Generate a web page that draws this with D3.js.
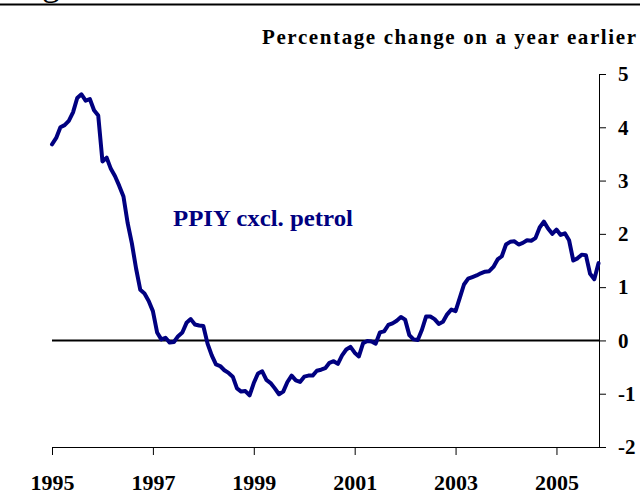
<!DOCTYPE html>
<html>
<head>
<meta charset="utf-8">
<script src="https://cdn.jsdelivr.net/npm/d3@7"></script>
<style>
  html, body { margin: 0; padding: 0; background: #fff; }
  svg { display: block; }
  text { font-family: "Liberation Serif", "Times New Roman", serif; }
</style>
</head>
<body>
<svg id="chart" width="640" height="497"></svg>
<script>
// ---- data (monthly, Jan 1995 .. Nov 2005) ----
const startYear = 1995;
const seriesName = "PPIY cxcl. petrol";
const unitLabel = "Percentage change on a year earlier";
const values = [
  3.68, 3.80, 4.00, 4.04, 4.12, 4.28, 4.55, 4.62, 4.50, 4.53, 4.32, 4.22,
  3.36, 3.43, 3.22, 3.08, 2.90, 2.70, 2.20, 1.82, 1.35, 0.95, 0.88, 0.74,
  0.55, 0.15, 0.02, 0.05, -0.04, -0.03, 0.08, 0.15, 0.33, 0.40, 0.30, 0.28,
  0.27, -0.06, -0.28, -0.45, -0.48, -0.56, -0.61, -0.68, -0.90, -0.96, -0.95, -1.03,
  -0.80, -0.62, -0.58, -0.74, -0.80, -0.90, -1.01, -0.96, -0.78, -0.66, -0.75, -0.78,
  -0.68, -0.66, -0.66, -0.57, -0.55, -0.52, -0.42, -0.39, -0.44, -0.28, -0.17, -0.12,
  -0.23, -0.30, -0.05, -0.01, -0.02, -0.06, 0.15, 0.17, 0.29, 0.32, 0.37, 0.44,
  0.39, 0.10, 0.02, 0.01, 0.20, 0.45, 0.45, 0.40, 0.31, 0.35, 0.49, 0.58,
  0.55, 0.80, 1.05, 1.16, 1.19, 1.22, 1.26, 1.29, 1.30, 1.38, 1.52, 1.58,
  1.80, 1.85, 1.86, 1.80, 1.83, 1.88, 1.87, 1.92, 2.12, 2.23, 2.10, 2.00,
  2.08, 1.98, 2.01, 1.88, 1.50, 1.54, 1.61, 1.60, 1.25, 1.15, 1.45
];
const xTickYears = [1995, 1997, 1999, 2001, 2003, 2005];
const yTicks = [-2, -1, 0, 1, 2, 3, 4, 5];

// ---- drawing ----
const svg = d3.select("#chart");
const navy = "#000080";

const x = d3.scaleLinear().domain([0, values.length - 1]).range([52, 598.5]);
const y = d3.scaleLinear().domain([-2, 5]).range([447, 74]);

// top rule and cut-off heading glyph (as in the reference)
svg.append("text").attr("x", 42).attr("y", -5)
  .attr("font-size", 36).attr("fill", "#000").text("g");
svg.append("line").attr("x1", 0).attr("x2", 640).attr("y1", 4.5).attr("y2", 4.5)
  .attr("stroke", "#000").attr("stroke-width", 2);

// unit label
svg.append("text")
  .attr("x", 262).attr("y", 44)
  .attr("font-size", 21).attr("font-weight", "bold")
  .attr("textLength", 374).attr("lengthAdjust", "spacing")
  .attr("fill", "#000")
  .text(unitLabel);

// x axis
const xAxis = d3.axisBottom(x)
  .tickValues(xTickYears.map(yr => (yr - startYear) * 12))
  .tickFormat(i => String(startYear + i / 12))
  .tickSize(8).tickSizeOuter(0).tickPadding(19);
const gx = svg.append("g").attr("transform", "translate(0,447)").call(xAxis);
gx.select(".domain").attr("stroke", "#000").attr("stroke-width", 1)
  .attr("d", "M52,0.5H599");
gx.selectAll(".tick line").attr("stroke", "#000");
gx.selectAll(".tick text")
  .attr("font-family", "'Liberation Serif', 'Times New Roman', serif")
  .attr("font-size", 22).attr("font-weight", "bold").attr("fill", "#000");

// y axis (right)
const yAxis = d3.axisRight(y)
  .tickValues(yTicks)
  .tickFormat(d3.format("d"))
  .tickSize(7).tickSizeOuter(0).tickPadding(12);
const gy = svg.append("g").attr("transform", "translate(599,0)").call(yAxis);
gy.select(".domain").attr("stroke", "#000").attr("stroke-width", 1);
gy.selectAll(".tick line").attr("stroke", "#000");
gy.selectAll(".tick text")
  .attr("font-family", "'Liberation Serif', 'Times New Roman', serif")
  .attr("font-size", 21).attr("font-weight", "bold").attr("fill", "#000")
  .text(d => d < 0 ? "-" + Math.abs(d) : String(d));

// zero line
svg.append("line")
  .attr("x1", 52).attr("x2", 599)
  .attr("y1", y(0)).attr("y2", y(0))
  .attr("stroke", "#000").attr("stroke-width", 2);

// series line
const line = d3.line().x((d, i) => x(i)).y(d => y(d));
svg.append("path").datum(values)
  .attr("d", line)
  .attr("fill", "none")
  .attr("stroke", navy)
  .attr("stroke-width", 4)
  .attr("stroke-linejoin", "round")
  .attr("stroke-linecap", "round");

// series label
svg.append("text")
  .attr("x", 173).attr("y", 225.5)
  .attr("font-size", 24).attr("font-weight", "bold")
  .attr("textLength", 180).attr("lengthAdjust", "spacingAndGlyphs")
  .attr("fill", navy)
  .text(seriesName);
</script>
</body>
</html>
